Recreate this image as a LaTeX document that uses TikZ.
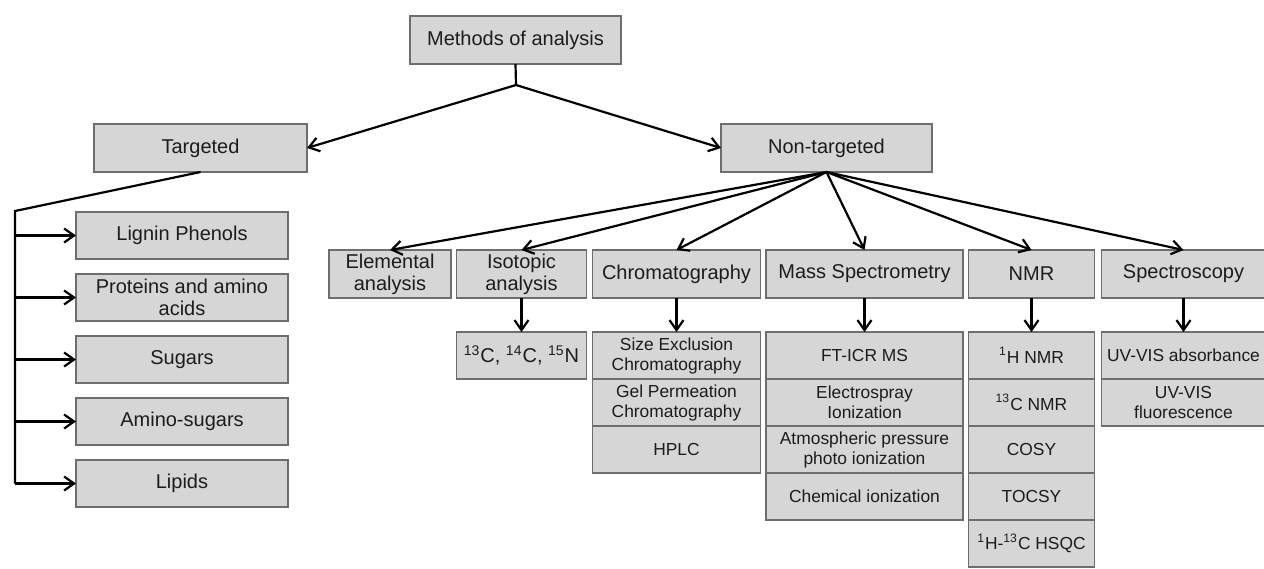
\documentclass[tikz,border=0pt]{standalone}
\usepackage{fontspec}
\setmainfont{Liberation Sans}
\usetikzlibrary{positioning,arrows.meta}
\definecolor{boxFill}{HTML}{D6D6D6}
\definecolor{boxLine}{HTML}{6E6E6E}
\definecolor{txtDark}{HTML}{1C1C1C}

\begin{document}
\begin{tikzpicture}[
  x=0.5pt, y=-0.5pt,
  font=\fontsize{10}{11}\selectfont,
  node distance=17pt and 2.75pt,
  >={Straight Barb[length=5pt,width=7pt,line width=1.1pt]},
  methodbox/.style={
    rectangle, draw=boxLine, fill=boxFill, line width=0.8pt,
    text=txtDark, align=center, inner sep=1pt, outer sep=0pt,
    minimum height=24pt
  },
  subbox/.style={
    methodbox, minimum height=23.5pt,
    font=\fontsize{8.7}{10}\selectfont
  },
  listbox/.style={
    methodbox, minimum width=106pt, minimum height=23.5pt
  },
  link/.style={line width=1.1pt, black}
]
  \useasboundingbox (0,0) rectangle (1264,568);

  % Top level
  \node[methodbox, minimum width=105.5pt] (methods) at (515.5,40) {Methods of analysis};
  \node[methodbox, minimum width=106.5pt] (targeted) at (200.5,148) {Targeted};
  \node[methodbox, minimum width=105.5pt] (nontargeted) at (826.5,148) {Non-targeted};

  % Targeted list
  \node[listbox] (lignin) at (182,235.5) {Lignin Phenols};
  \node[listbox, below=7.5pt of lignin] (proteins) {Proteins and amino\\acids};
  \node[listbox, below=7.5pt of proteins] (sugars) {Sugars};
  \node[listbox, below=7.5pt of sugars] (aminosugars) {Amino-sugars};
  \node[listbox, below=7.5pt of aminosugars] (lipids) {Lipids};

  % Non-targeted families
  \node[methodbox, minimum width=61pt] (elemental) at (390,274) {Elemental\\analysis};
  \node[methodbox, minimum width=65pt, right=of elemental] (isotopic) {Isotopic\\analysis};
  \node[methodbox, minimum width=84pt, right=3pt of isotopic] (chromatography) {Chromatography};
  \node[methodbox, minimum width=98.5pt, right=of chromatography] (massspec) {Mass Spectrometry};
  \node[methodbox, minimum width=63pt, right=of massspec] (nmr) {NMR};
  \node[methodbox, minimum width=82pt, right=3.5pt of nmr] (spectroscopy) {Spectroscopy};

  % Isotopic
  \node[subbox, minimum width=65pt, font=\fontsize{10}{11}\selectfont, below=of isotopic] (isotopes)
    {\textsuperscript{13}C, \textsuperscript{14}C, \textsuperscript{15}N};

  % Chromatography
  \node[subbox, minimum width=84pt, below=of chromatography] (sec) {Size Exclusion\\Chromatography};
  \node[subbox, minimum width=84pt, below=0pt of sec] (gpc) {Gel Permeation\\Chromatography};
  \node[subbox, minimum width=84pt, below=0pt of gpc] (hplc) {HPLC};

  % Mass spectrometry
  \node[subbox, minimum width=98.5pt, below=of massspec] (fticr) {FT-ICR MS};
  \node[subbox, minimum width=98.5pt, below=0pt of fticr] (esi) {Electrospray\\Ionization};
  \node[subbox, minimum width=98.5pt, below=0pt of esi] (appi) {Atmospheric pressure\\photo ionization};
  \node[subbox, minimum width=98.5pt, below=0pt of appi] (chemion) {Chemical ionization};

  % NMR
  \node[subbox, minimum width=63pt, below=of nmr] (hnmr) {\textsuperscript{1}H NMR};
  \node[subbox, minimum width=63pt, below=0pt of hnmr] (cnmr) {\textsuperscript{13}C NMR};
  \node[subbox, minimum width=63pt, below=0pt of cnmr] (cosy) {COSY};
  \node[subbox, minimum width=63pt, below=0pt of cosy] (tocsy) {TOCSY};
  \node[subbox, minimum width=63pt, below=0pt of tocsy] (hsqc) {\textsuperscript{1}H-\textsuperscript{13}C HSQC};

  % Spectroscopy
  \node[subbox, minimum width=82pt, below=of spectroscopy] (uvabs) {UV-VIS absorbance};
  \node[subbox, minimum width=82pt, below=0pt of uvabs] (uvfl) {UV-VIS\\fluorescence};

  % Relations
  \coordinate (split) at (516,85);
  \coordinate (rail) at (15,211);
  \draw[link] (methods.south) -- (split);
  \draw[link, ->] (split) -- (targeted.east);
  \draw[link, ->] (split) -- (nontargeted.west);

  \draw[link] (targeted.south) -- (rail) -- (rail |- lipids.west);
  \foreach \n in {lignin,proteins,sugars,aminosugars,lipids}
    \draw[link, ->] (rail |- \n.west) -- (\n.west);

  \foreach \n in {elemental,isotopic,chromatography,massspec,nmr,spectroscopy}
    \draw[link, ->] (nontargeted.south) -- (\n.north);

  \draw[link, ->] (isotopic) -- (isotopes);
  \draw[link, ->] (chromatography) -- (sec);
  \draw[link, ->] (massspec) -- (fticr);
  \draw[link, ->] (nmr) -- (hnmr);
  \draw[link, ->] (spectroscopy) -- (uvabs);

\end{tikzpicture}
\end{document}
